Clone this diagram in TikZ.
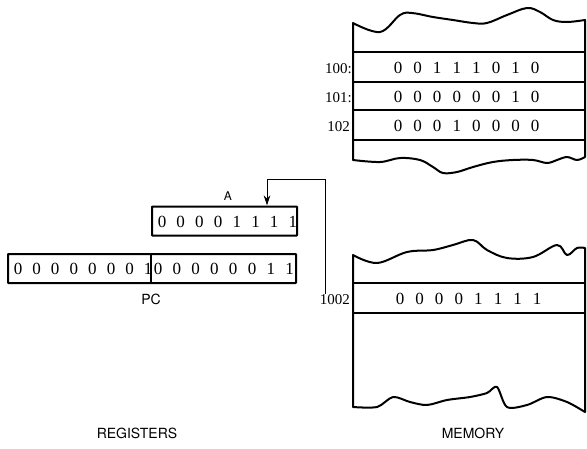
\documentclass[tikz,border=0pt]{standalone}
\usepackage{fontspec}
\setmainfont{Liberation Serif}
\setsansfont{TeX Gyre Heros}
\usetikzlibrary{arrows.meta}
\begin{document}
\begin{tikzpicture}[x=1pt,y=-1pt,
  reg/.style={draw, line width=2pt, inner sep=0pt, rounded corners=0.6pt},
  bit/.style={font=\fontsize{17}{17}\selectfont, inner sep=0pt, anchor=base},
  addr/.style={font=\fontsize{15}{15}\selectfont, inner sep=0pt, anchor=base east},
  caption/.style={font=\sffamily\fontsize{14}{14}\selectfont, inner sep=0pt},
  mem/.style={line width=2pt, line join=round},
  rowline/.style={line width=2.2pt},
  arr/.style={line width=1pt, -{Stealth[length=10pt,width=6.5pt]}}]
\useasboundingbox (0,0) rectangle (587,448);

% ---------- upper memory block ----------
\draw[mem] (353,23)
  plot[smooth,tension=0.6] coordinates {(353,23) (380,32) (400,15) (412,13) (433,17) (453,20) (473,23) (487,23) (507,15) (527,8) (540,12) (553,20) (567,22) (585,20)}
  -- (585,157)
  -- plot[smooth,tension=0.6] coordinates {(585,157) (577,160) (567,157) (557,160) (547,163) (533,160) (513,160) (493,162) (473,167) (457,172) (443,173) (433,167) (420,160) (400,158) (380,162) (353,160)}
  -- cycle;
\foreach \yy in {52,82,110,140} \draw[rowline] (353,\yy) -- (585,\yy);

\node[addr] (a100) at (352,73) {100:};
\node[addr] (a101) at (352,102) {101:};
\node[addr] (a102) at (350,131) {102};
\foreach \b [count=\i from 0] in {0,0,1,1,1,0,1,0}
  \node[bit] (m100b\i) at (398+19.6*\i,73) {\b};
\foreach \b [count=\i from 0] in {0,0,0,0,0,0,1,0}
  \node[bit] (m101b\i) at (398+19.6*\i,102) {\b};
\foreach \b [count=\i from 0] in {0,0,0,1,0,0,0,0}
  \node[bit] (m102b\i) at (398+19.6*\i,131) {\b};

% ---------- lower memory block ----------
\draw[mem] (353,255)
  plot[smooth,tension=0.6] coordinates {(353,255) (377,263) (407,252) (433,250) (453,245) (473,240) (487,250) (507,258) (533,257) (557,245) (567,255) (577,248) (585,248)}
  -- (585,412)
  -- plot[smooth,tension=0.5] coordinates {(585,412) (567,402) (547,397) (527,405) (507,407) (497,387) (487,393) (470,397) (447,400) (427,405) (410,402) (393,397) (377,407) (353,407)}
  -- cycle;
\foreach \yy in {283,313} \draw[rowline] (353,\yy) -- (585,\yy);

\node[addr] (a1002) at (350,304) {1002};
\foreach \b [count=\i from 0] in {0,0,0,0,1,1,1,1}
  \node[bit] (m1002b\i) at (400+19.6*\i,304) {\b};

% ---------- registers ----------
\node[reg, minimum width=145pt, minimum height=29pt] (regA) at (224.5,221) {};
\node[caption, font=\sffamily\fontsize{12}{12}\selectfont] (labA) at (228,196) {A};
\foreach \b [count=\i from 0] in {0,0,0,0,1,1,1,1}
  \node[bit] (rAb\i) at (162+18.7*\i,227) {\b};

\node[reg, minimum width=288pt, minimum height=29pt] (regPC) at (152,268.5) {};
\draw[line width=2pt] (151,254) -- (151,283);
\foreach \b [count=\i from 0] in {0,0,0,0,0,0,0,1}
  \node[bit] (pcHb\i) at (18+18.6*\i,274.5) {\b};
\foreach \b [count=\i from 0] in {0,0,0,0,0,0,1,1}
  \node[bit] (pcLb\i) at (158+18.8*\i,274.5) {\b};
\node[caption] (labPC) at (151,299) {PC};

% ---------- connector ----------
\coordinate (src) at (325,294);
\coordinate (bend) at (267,179);
\draw[arr] (src) |- (bend) -- (bend |- regA.north);

% ---------- captions ----------
\node[caption] (labReg) at (137,433) {REGISTERS};
\node[caption] (labMem) at (473,433) {MEMORY};
\end{tikzpicture}
\end{document}
